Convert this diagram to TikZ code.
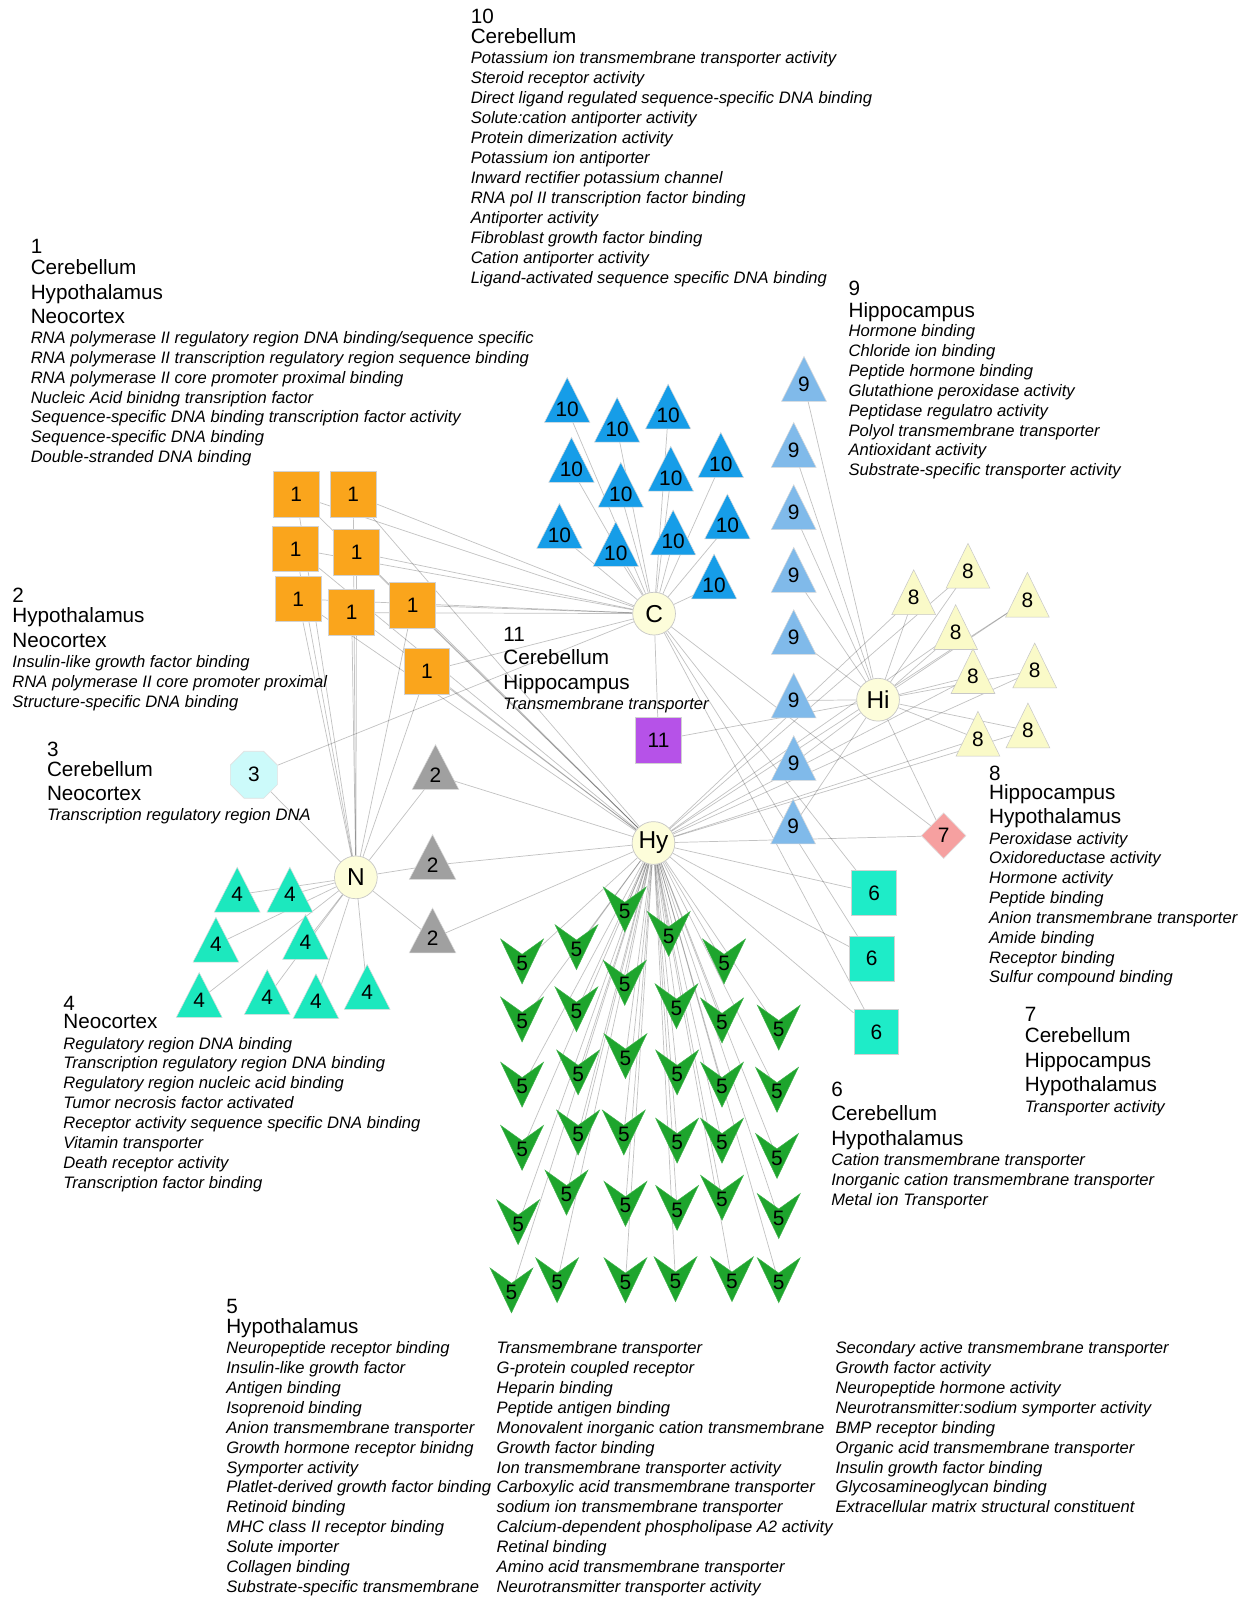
\documentclass[tikz,border=0pt]{standalone}
\usepackage{fontspec}
\setmainfont{Liberation Sans}
\usetikzlibrary{shapes.geometric}
\pgfdeclarelayer{bg}
\pgfdeclarelayer{edges}
\pgfsetlayers{bg,edges,main}
\definecolor{cone}{RGB}{250,165,28}
\definecolor{cten}{RGB}{22,157,232}
\definecolor{cnine}{RGB}{128,186,234}
\definecolor{ceight}{RGB}{250,250,200}
\definecolor{chub}{RGB}{253,253,218}
\definecolor{ctwo}{RGB}{160,160,160}
\definecolor{cthree}{RGB}{204,250,250}
\definecolor{cfour}{RGB}{28,232,190}
\definecolor{csix}{RGB}{30,236,200}
\definecolor{celeven}{RGB}{182,82,232}
\definecolor{cseven}{RGB}{246,160,160}
\definecolor{cfive}{RGB}{30,165,45}
\begin{document}
\begin{tikzpicture}[x=1pt,y=-1pt,
  itl/.style={anchor=base west, inner sep=0, font=\fontsize{16.3}{19}\selectfont\itshape},
  hdr/.style={anchor=base west, inner sep=0, font=\fontsize{20.3}{24}\selectfont},
  lab/.style={inner sep=0, font=\fontsize{20.5}{22}\selectfont},
  hub/.style={circle, minimum size=42, inner sep=0, fill=chub, draw=black!22, line width=0.7pt, font=\fontsize{24}{26}\selectfont},
  sq/.style={rectangle, minimum size=45, inner sep=0, draw=black!18, line width=0.8pt, font=\fontsize{20.5}{22}\selectfont},
  tri/.style={draw=black!15, line width=0.5pt},
  vee/.style={fill=cfive, draw=cfive!85!white, line width=0.5pt},
  edge/.style={draw=black, draw opacity=0.24, line width=0.7pt}]
\begin{pgfonlayer}{bg}
\fill[white] (0,0) rectangle (1223,1568);
\end{pgfonlayer}
\useasboundingbox (0,0) rectangle (1223,1568);

% ---------- hubs
\node[hub] (C) at (642.2,602.5) {C};
\node[hub] (Hi) at (862.1,687) {Hi};
\node[hub] (Hy) at (641.6,827.7) {Hy};
\node[hub] (N) at (349.4,861.4) {N};

% ---------- cluster 1 (orange squares)
\foreach \x/\y [count=\i] in {290.8/485.8, 346.8/485.8, 290.2/538.9, 350.1/542.3, 292.8/588.1, 345.3/601.5, 405.2/594.3, 419.1/659.3}
  \node[sq, fill=cone] (one\i) at (\x,\y) {1};

% ---------- cluster 10 (blue triangles)
\foreach \x/\y [count=\i] in {556.9/392.6, 605.9/412.2, 656.0/399.2, 561.1/451.5, 609.5/476, 658.6/460.3, 707.7/446.6, 549.3/516.3, 604.6/534.2, 660.9/522.8, 714.2/507.1, 701.1/566}{
  \filldraw[tri, fill=cten] (\x,\y-22) -- (\x+22.3,\y+22) -- (\x-22.3,\y+22) -- cycle;
  \node[lab] (ten\i) at (\x,\y+9) {10};
}

% ---------- cluster 9 (light blue triangles)
\foreach \x/\y [count=\i] in {789.4/372, 779.3/436.8, 779.3/497.9, 779.3/559.5, 779.3/620.6, 779.3/682.8, 779.3/744.3, 778.7/806.5}{
  \filldraw[tri, fill=cnine] (\x,\y-22) -- (\x+22,\y+22) -- (\x-22,\y+22) -- cycle;
  \node[lab] (nine\i) at (\x,\y+5) {9};
}

% ---------- cluster 8 (yellow triangles)
\foreach \x/\y [count=\i] in {897.1/581.4, 950.4/555.5, 1008.7/584, 938.3/615.7, 955.3/658.9, 1015.9/653.4, 1009.3/712.3, 960.2/720.4}{
  \filldraw[tri, fill=ceight, draw=black!22] (\x,\y-22) -- (\x+21.5,\y+22) -- (\x-21.5,\y+22) -- cycle;
  \node[lab] (eight\i) at (\x,\y+5) {8};
}

% ---------- cluster 2 (grey triangles)
\foreach \x/\y [count=\i] in {427.6/753.1, 424.7/841.5, 424.7/913.5}{
  \filldraw[tri, fill=ctwo] (\x,\y-22) -- (\x+22.9,\y+22) -- (\x-22.9,\y+22) -- cycle;
  \node[lab] (two\i) at (\x,\y+8) {2};
}

% ---------- cluster 4 (teal triangles)
\foreach \x/\y [count=\i] in {232.9/873.5, 284.6/873.5, 212/922.6, 300/920, 195.6/976.9, 262.4/974, 310.2/978.2, 360.5/969}{
  \filldraw[tri, fill=cfour] (\x,\y-22) -- (\x+22.5,\y+22) -- (\x-22.5,\y+22) -- cycle;
  \node[lab] (four\i) at (\x,\y+5) {4};
}

% ---------- cluster 3, 7, 6, 11
\node[regular polygon, regular polygon sides=8, minimum size=50, inner sep=0, fill=cthree, draw=black!12, line width=0.6pt, font=\fontsize{20.5}{22}\selectfont] (three) at (249.3,760.7) {3};
\node[diamond, aspect=1, minimum width=44, minimum height=45, inner sep=0, fill=cseven, draw=black!12, line width=0.6pt, font=\fontsize{20.5}{22}\selectfont] (seven) at (926.5,820.5) {7};
\foreach \x/\y [count=\i] in {858.3/877, 855.9/941.1, 860.5/1013.4}
  \node[sq, minimum size=44, fill=csix] (six\i) at (\x,\y) {6};
\node[sq, fill=celeven] (eleven) at (646.6,726.8) {11};

% ---------- cluster 5 (green arrowheads)
\foreach \x/\y [count=\i] in {613.4/893, 656.6/917, 512.6/944, 566.0/930, 710.9/944, 613.4/965, 512.6/1001, 566.0/991, 664.2/988, 708.9/1002, 764.6/1009, 614.1/1037, 512.6/1065, 567.6/1053, 664.8/1053, 708.9/1065, 762.9/1070, 612.5/1112, 512.6/1127, 567.6/1112, 664.8/1120, 708.9/1120, 762.9/1135, 556.2/1171, 614.1/1182, 664.8/1186, 708.9/1176, 764.6/1194, 508.7/1200, 502.2/1267, 547.0/1257, 614.1/1257, 663.2/1256, 718.7/1256, 764.6/1257}{
  \filldraw[vee] (\x-21,\y-22) -- (\x,\y-7) -- (\x+21,\y-22) -- (\x,\y+22) -- cycle;
  \node[lab] (five\i) at (\x,\y+2) {5};
}

% ---------- connectors
\begin{pgfonlayer}{edges}
\foreach \i in {1,...,8}{
  \draw[edge] (one\i) -- (C);
  \draw[edge] (one\i) -- (Hy);
  \draw[edge] (one\i) -- (N);
  \draw[edge] (four\i) -- (N);
  \draw[edge] (nine\i) -- (Hi);
  \draw[edge] (eight\i) -- (Hi);
  \draw[edge] (eight\i) -- (Hy);
}
\foreach \i in {1,...,12} \draw[edge] (ten\i) -- (C);
\foreach \i in {1,...,3}{
  \draw[edge] (two\i) -- (N);
  \draw[edge] (two\i) -- (Hy);
  \draw[edge] (six\i) -- (C);
  \draw[edge] (six\i) -- (Hy);
}
\foreach \i in {1,...,35} \draw[edge] (five\i) -- (Hy);
\draw[edge] (three) -- (C);
\draw[edge] (three) -- (N);
\draw[edge] (eleven) -- (C);
\draw[edge] (eleven) -- (Hi);
\draw[edge] (seven) -- (C);
\draw[edge] (seven) -- (Hi);
\draw[edge] (seven) -- (Hy);
\end{pgfonlayer}

% ---------- text block 10
\node[hdr] (h10a) at (462,22.9) {10};
\node[hdr] (h10b) at (462,42.5) {Cerebellum};
\foreach \t [count=\i] in {{Potassium ion transmembrane transporter activity},{Steroid receptor activity},{Direct ligand regulated sequence-specific DNA binding},{Solute:cation antiporter activity},{Protein dimerization activity},{Potassium ion antiporter},{Inward rectifier potassium channel},{RNA pol II transcription factor binding},{Antiporter activity},{Fibroblast growth factor binding},{Cation antiporter activity},{Ligand-activated sequence specific DNA binding}}
  \node[itl] (d10-\i) at (462,{62.8+19.57*(\i-1)}) {\t};

% ---------- text block 1
\node[hdr] (h1a) at (30,248.6) {1};
\node[hdr] (h1b) at (30,269.9) {Cerebellum};
\node[hdr] (h1c) at (30,293.8) {Hypothalamus};
\node[hdr] (h1d) at (30,317.4) {Neocortex};
\foreach \t [count=\i] in {{RNA polymerase II regulatory region DNA binding/sequence specific},{RNA polymerase II transcription regulatory region sequence binding},{RNA polymerase II core promoter proximal binding},{Nucleic Acid binidng transription factor},{Sequence-specific DNA binding transcription factor activity},{Sequence-specific DNA binding},{Double-stranded DNA binding}}
  \node[itl] (d1-\i) at (30,{337.6+19.37*(\i-1)}) {\t};

% ---------- text block 9
\node[hdr] (h9a) at (833,290.5) {9};
\node[hdr] (h9b) at (833,311.5) {Hippocampus};
\foreach \t [count=\i] in {{Hormone binding},{Chloride ion binding},{Peptide hormone binding},{Glutathione peroxidase activity},{Peptidase regulatro activity},{Polyol transmembrane transporter},{Antioxidant activity},{Substrate-specific transporter activity}}
  \node[itl] (d9-\i) at (833,{330.6+19.5*(\i-1)}) {\t};

% ---------- text block 2
\node[hdr] (h2a) at (12,591.5) {2};
\node[hdr] (h2b) at (12,611.2) {Hypothalamus};
\node[hdr] (h2c) at (12,635.7) {Neocortex};
\foreach \t [count=\i] in {{Insulin-like growth factor binding},{RNA polymerase II core promoter proximal},{Structure-specific DNA binding}}
  \node[itl] (d2-\i) at (12,{655.3+19.65*(\i-1)}) {\t};

% ---------- text block 11
\node[hdr] (h11a) at (494,629.8) {11};
\node[hdr] (h11b) at (494,652.7) {Cerebellum};
\node[hdr] (h11c) at (494,676.6) {Hippocampus};
\node[itl] (d11-1) at (494,696.2) {Transmembrane transporter};

% ---------- text block 3
\node[hdr] (h3a) at (46,742.7) {3};
\node[hdr] (h3b) at (46,762.3) {Cerebellum};
\node[hdr] (h3c) at (46,786.2) {Neocortex};
\node[itl] (d3-1) at (46,805.5) {Transcription regulatory region DNA};

% ---------- text block 8
\node[hdr] (h8a) at (971,766.2) {8};
\node[hdr] (h8b) at (971,784.5) {Hippocampus};
\node[hdr] (h8c) at (971,808.1) {Hypothalamus};
\foreach \t [count=\i] in {{Peroxidase activity},{Oxidoreductase activity},{Hormone activity},{Peptide binding},{Anion transmembrane transporter},{Amide binding},{Receptor binding},{Sulfur compound binding}}
  \node[itl] (d8-\i) at (971,{828.7+19.49*(\i-1)}) {\t};

% ---------- text block 7
\node[hdr] (h7a) at (1006,1002.8) {7};
\node[hdr] (h7b) at (1006,1024) {Cerebellum};
\node[hdr] (h7c) at (1006,1047.9) {Hippocampus};
\node[hdr] (h7d) at (1006,1072.1) {Hypothalamus};
\node[itl] (d7-1) at (1006,1092.1) {Transporter activity};

% ---------- text block 6
\node[hdr] (h6a) at (816,1077) {6};
\node[hdr] (h6b) at (816,1100.3) {Cerebellum};
\node[hdr] (h6c) at (816,1124.5) {Hypothalamus};
\foreach \t [count=\i] in {{Cation transmembrane transporter},{Inorganic cation transmembrane transporter},{Metal ion Transporter}}
  \node[itl] (d6-\i) at (816,{1144.4+19.65*(\i-1)}) {\t};

% ---------- text block 4
\node[hdr] (h4a) at (62,992) {4};
\node[hdr] (h4b) at (62,1010) {Neocortex};
\foreach \t [count=\i] in {{Regulatory region DNA binding},{Transcription regulatory region DNA binding},{Regulatory region nucleic acid binding},{Tumor necrosis factor activated},{Receptor activity sequence specific DNA binding},{Vitamin transporter},{Death receptor activity},{Transcription factor binding}}
  \node[itl] (d4-\i) at (62,{1030+19.57*(\i-1)}) {\t};

% ---------- text block 5
\node[hdr] (h5a) at (222,1289.7) {5};
\node[hdr] (h5b) at (222,1309.6) {Hypothalamus};
\foreach \t [count=\i] in {{Neuropeptide receptor binding},{Insulin-like growth factor},{Antigen binding},{Isoprenoid binding},{Anion transmembrane transporter},{Growth hormone receptor binidng},{Symporter activity},{Platlet-derived growth factor binding},{Retinoid binding},{MHC class II receptor binding},{Solute importer},{Collagen binding},{Substrate-specific transmembrane}}
  \node[itl] (d5a-\i) at (222,{1329.3+19.49*(\i-1)}) {\t};
\foreach \t [count=\i] in {{Transmembrane transporter},{G-protein coupled receptor},{Heparin binding},{Peptide antigen binding},{Monovalent inorganic cation transmembrane},{Growth factor binding},{Ion transmembrane transporter activity},{Carboxylic acid transmembrane transporter},{sodium ion transmembrane transporter},{Calcium-dependent phospholipase A2 activity},{Retinal binding},{Amino acid transmembrane transporter},{Neurotransmitter transporter activity}}
  \node[itl] (d5b-\i) at (487.5,{1329.3+19.49*(\i-1)}) {\t};
\foreach \t [count=\i] in {{Secondary active transmembrane transporter},{Growth factor activity},{Neuropeptide hormone activity},{Neurotransmitter:sodium symporter activity},{BMP receptor binding},{Organic acid transmembrane transporter},{Insulin growth factor binding},{Glycosamineoglycan binding},{Extracellular matrix structural constituent}}
  \node[itl] (d5c-\i) at (820.2,{1329.3+19.49*(\i-1)}) {\t};
\end{tikzpicture}
\end{document}
